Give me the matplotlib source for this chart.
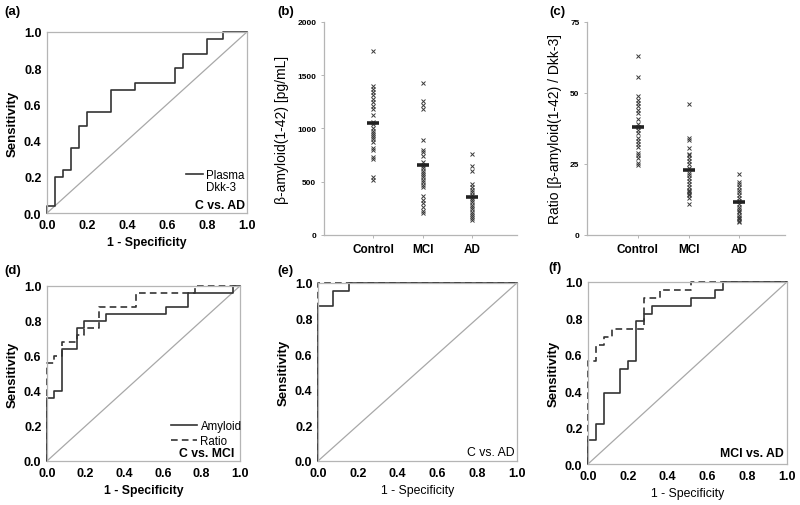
import matplotlib
matplotlib.use("Agg")
import matplotlib.pyplot as plt
from matplotlib.lines import Line2D

plt.rcParams["font.family"] = ["Liberation Sans", "DejaVu Sans"]

# ---- ROC curves (corner points, step-post)
a_fpr = [0.0, 0.0, 0.04, 0.08, 0.12, 0.16, 0.20, 0.32, 0.44, 0.64, 0.68, 0.80, 0.88, 1.0]
a_tpr = [0.0, 0.04, 0.20, 0.24, 0.36, 0.48, 0.56, 0.68, 0.72, 0.80, 0.88, 0.96, 1.00, 1.0]

d_amy_fpr = [0.0, 0.0, 0.0385, 0.077, 0.154, 0.192, 0.308, 0.615, 0.731, 0.962, 1.0]
d_amy_tpr = [0.0, 0.36, 0.40, 0.64, 0.76, 0.80, 0.84, 0.88, 0.96, 1.00, 1.0]
d_rat_fpr = [0.0, 0.0, 0.0385, 0.077, 0.154, 0.192, 0.269, 0.462, 0.769, 1.0]
d_rat_tpr = [0.0, 0.56, 0.60, 0.68, 0.72, 0.76, 0.88, 0.96, 1.00, 1.0]

e_amy_fpr = [0.0, 0.0, 0.077, 0.154, 1.0]
e_amy_tpr = [0.0, 0.87, 0.957, 1.00, 1.0]
e_rat_fpr = [0.0, 0.0, 1.0]
e_rat_tpr = [0.0, 1.0, 1.0]

f_amy_fpr = [0.0, 0.0, 0.04, 0.08, 0.16, 0.20, 0.24, 0.28, 0.32, 0.52, 0.64, 0.68, 1.0]
f_amy_tpr = [0.0, 0.13, 0.217, 0.391, 0.522, 0.565, 0.783, 0.826, 0.870, 0.913, 0.957, 1.00, 1.0]
f_rat_fpr = [0.0, 0.0, 0.04, 0.08, 0.12, 0.28, 0.36, 0.52, 1.0]
f_rat_tpr = [0.0, 0.565, 0.652, 0.696, 0.739, 0.913, 0.957, 1.00, 1.0]

# ---- scatter data
groups = ["Control", "MCI", "AD"]
b_control = [1730, 1400, 1370, 1340, 1310, 1280, 1250, 1210, 1180, 1130, 1060, 1040,
             1000, 980, 960, 940, 920, 900, 870, 820, 800, 730, 710, 540, 520]
b_mci = [1430, 1260, 1220, 1180, 890, 800, 780, 740, 690, 650, 630, 600, 580, 560,
         540, 520, 500, 470, 450, 370, 330, 300, 260, 230, 210]
b_ad = [760, 650, 600, 480, 450, 420, 400, 380, 350, 330, 310, 280, 260, 240, 220,
        200, 180, 160, 140]
b_center = [1050, 660, 360]

c_control = [63, 55.5, 49, 47.5, 46.5, 45.5, 44, 43, 41, 39, 38, 37, 36, 34, 33, 32,
             31, 29, 28, 27, 25.5, 24.5]
c_mci = [46, 34, 33.5, 30.5, 28.5, 28, 27, 26, 25, 23.5, 22, 21, 20, 19, 18, 17, 16,
         15.5, 15, 14.5, 14, 13, 11]
c_ad = [21.5, 18.5, 18, 17, 16, 15, 14, 13, 12, 11, 10, 9, 8.5, 8, 7, 6.5, 6, 5.5,
        5, 4.5]
c_center = [38, 23, 11.5]

LINE = "#333333"
GRID = "#b5b5b5"
DIAG = "#a8a8a8"

fig = plt.figure(figsize=(8, 5.06), dpi=100)


def roc_axes(rect, curves, xlabel_bold=True):
    ax = fig.add_axes(rect)
    ax.plot([0, 1], [0, 1], color=DIAG, lw=0.9)
    for fpr, tpr, ls in curves:
        ax.step(fpr, tpr, where="post", color=LINE, lw=1.2, ls=ls, clip_on=False)
    ax.set_xlim(0, 1)
    ax.set_ylim(0, 1)
    ticks = [0, 0.2, 0.4, 0.6, 0.8, 1.0]
    ax.set_xticks(ticks)
    ax.set_yticks(ticks)
    ax.set_xticklabels([f"{t:.1f}" for t in ticks], fontweight="bold", fontsize=9)
    ax.set_yticklabels([f"{t:.1f}" for t in ticks], fontweight="bold", fontsize=9)
    ax.tick_params(length=0, pad=4)
    for s in ax.spines.values():
        s.set_color(GRID)
        s.set_linewidth(0.9)
    ax.set_ylabel("Sensitivity", fontweight="bold", fontsize=9.5, labelpad=4)
    ax.set_xlabel("1 - Specificity", fontweight="bold" if xlabel_bold else "normal",
                  fontsize=8.8, labelpad=4)
    return ax


def dot_axes(rect, data, centers, ymax, yticks, ylabel):
    ax = fig.add_axes(rect)
    for i, vals in enumerate(data):
        ax.plot([i + 1] * len(vals), vals, ls="none", marker="x", ms=3.0,
                mew=0.7, color="#3a3a3a")
        ax.plot(i + 1, centers[i], marker="_", ms=8.5, mew=2.6, color="#222222")
    ax.set_xlim(0, 3.9)
    ax.set_ylim(0, ymax)
    ax.set_yticks(yticks)
    ax.set_yticklabels([str(t) for t in yticks], fontweight="bold", fontsize=6)
    ax.set_xticks([1, 2, 3])
    ax.set_xticklabels(groups, fontweight="bold", fontsize=8.5)
    ax.tick_params(axis="y", length=2.5, width=0.7, color=GRID, pad=3)
    ax.tick_params(axis="x", length=2.5, width=0.7, color=GRID, pad=3)
    for s in ["top", "right"]:
        ax.spines[s].set_visible(False)
    for s in ["left", "bottom"]:
        ax.spines[s].set_color(GRID)
        ax.spines[s].set_linewidth(0.9)
    ax.set_ylabel(ylabel, fontsize=10, labelpad=6)
    return ax


# (a)
ax_a = roc_axes([0.05875, 0.577, 0.25, 0.358], [(a_fpr, a_tpr, "-")])
ax_a.legend([Line2D([], [], color=LINE, lw=1.2), Line2D([], [], color="none")],
            ["Plasma", "Dkk-3"], loc="lower left", bbox_to_anchor=(0.695, 0.11),
            frameon=False, fontsize=8.3, handlelength=1.5, handletextpad=0.25,
            labelspacing=0.05, borderpad=0, borderaxespad=0)
ax_a.text(0.99, 0.012, "C vs. AD", transform=ax_a.transAxes, ha="right", va="bottom",
          fontweight="bold", fontsize=8.8)

# (b)
dot_axes([0.405, 0.5336, 0.2413, 0.421], [b_control, b_mci, b_ad], b_center, 2000,
         [0, 500, 1000, 1500, 2000], "β-amyloid(1-42) [pg/mL]")

# (c)
dot_axes([0.73375, 0.5336, 0.2475, 0.421], [c_control, c_mci, c_ad], c_center, 75,
         [0, 25, 50, 75], "Ratio [β-amyloid(1-42) / Dkk-3]")

# (d)
ax_d = roc_axes([0.05875, 0.087, 0.24125, 0.346],
                [(d_amy_fpr, d_amy_tpr, "-"), (d_rat_fpr, d_rat_tpr, (0, (4, 2.5)))])
ax_d.legend([Line2D([], [], color=LINE, lw=1.2),
             Line2D([], [], color=LINE, lw=1.2, ls=(0, (4, 2.5)))],
            ["Amyloid", "Ratio"], loc="lower left", bbox_to_anchor=(0.64, 0.08),
            frameon=False, fontsize=8.3, handlelength=2.3, handletextpad=0.3,
            labelspacing=0.25, borderpad=0, borderaxespad=0)
ax_d.text(0.97, 0.012, "C vs. MCI", transform=ax_d.transAxes, ha="right", va="bottom",
          fontweight="bold", fontsize=8.8)

# (e)
ax_e = roc_axes([0.3975, 0.087, 0.24875, 0.352],
                [(e_rat_fpr, e_rat_tpr, (0, (4, 2.5))), (e_amy_fpr, e_amy_tpr, "-")],
                xlabel_bold=False)
ax_e.text(0.99, 0.015, "C vs. AD", transform=ax_e.transAxes, ha="right", va="bottom",
          fontsize=8.8)

# (f)
ax_f = roc_axes([0.735, 0.081, 0.24875, 0.36],
                [(f_amy_fpr, f_amy_tpr, "-"), (f_rat_fpr, f_rat_tpr, (0, (4, 2.5)))],
                xlabel_bold=False)
ax_f.text(0.985, 0.025, "MCI vs. AD", transform=ax_f.transAxes, ha="right", va="bottom",
          fontweight="bold", fontsize=8.8)

# panel letters
for lbl, x, y in [("(a)", 0.006, 0.976), ("(b)", 0.347, 0.976), ("(c)", 0.687, 0.976),
                  ("(d)", 0.006, 0.465), ("(e)", 0.347, 0.465), ("(f)", 0.685, 0.47)]:
    fig.text(x, y, lbl, fontweight="bold", fontsize=9.5, va="center", ha="left")

fig.savefig("out.png", dpi=100)
